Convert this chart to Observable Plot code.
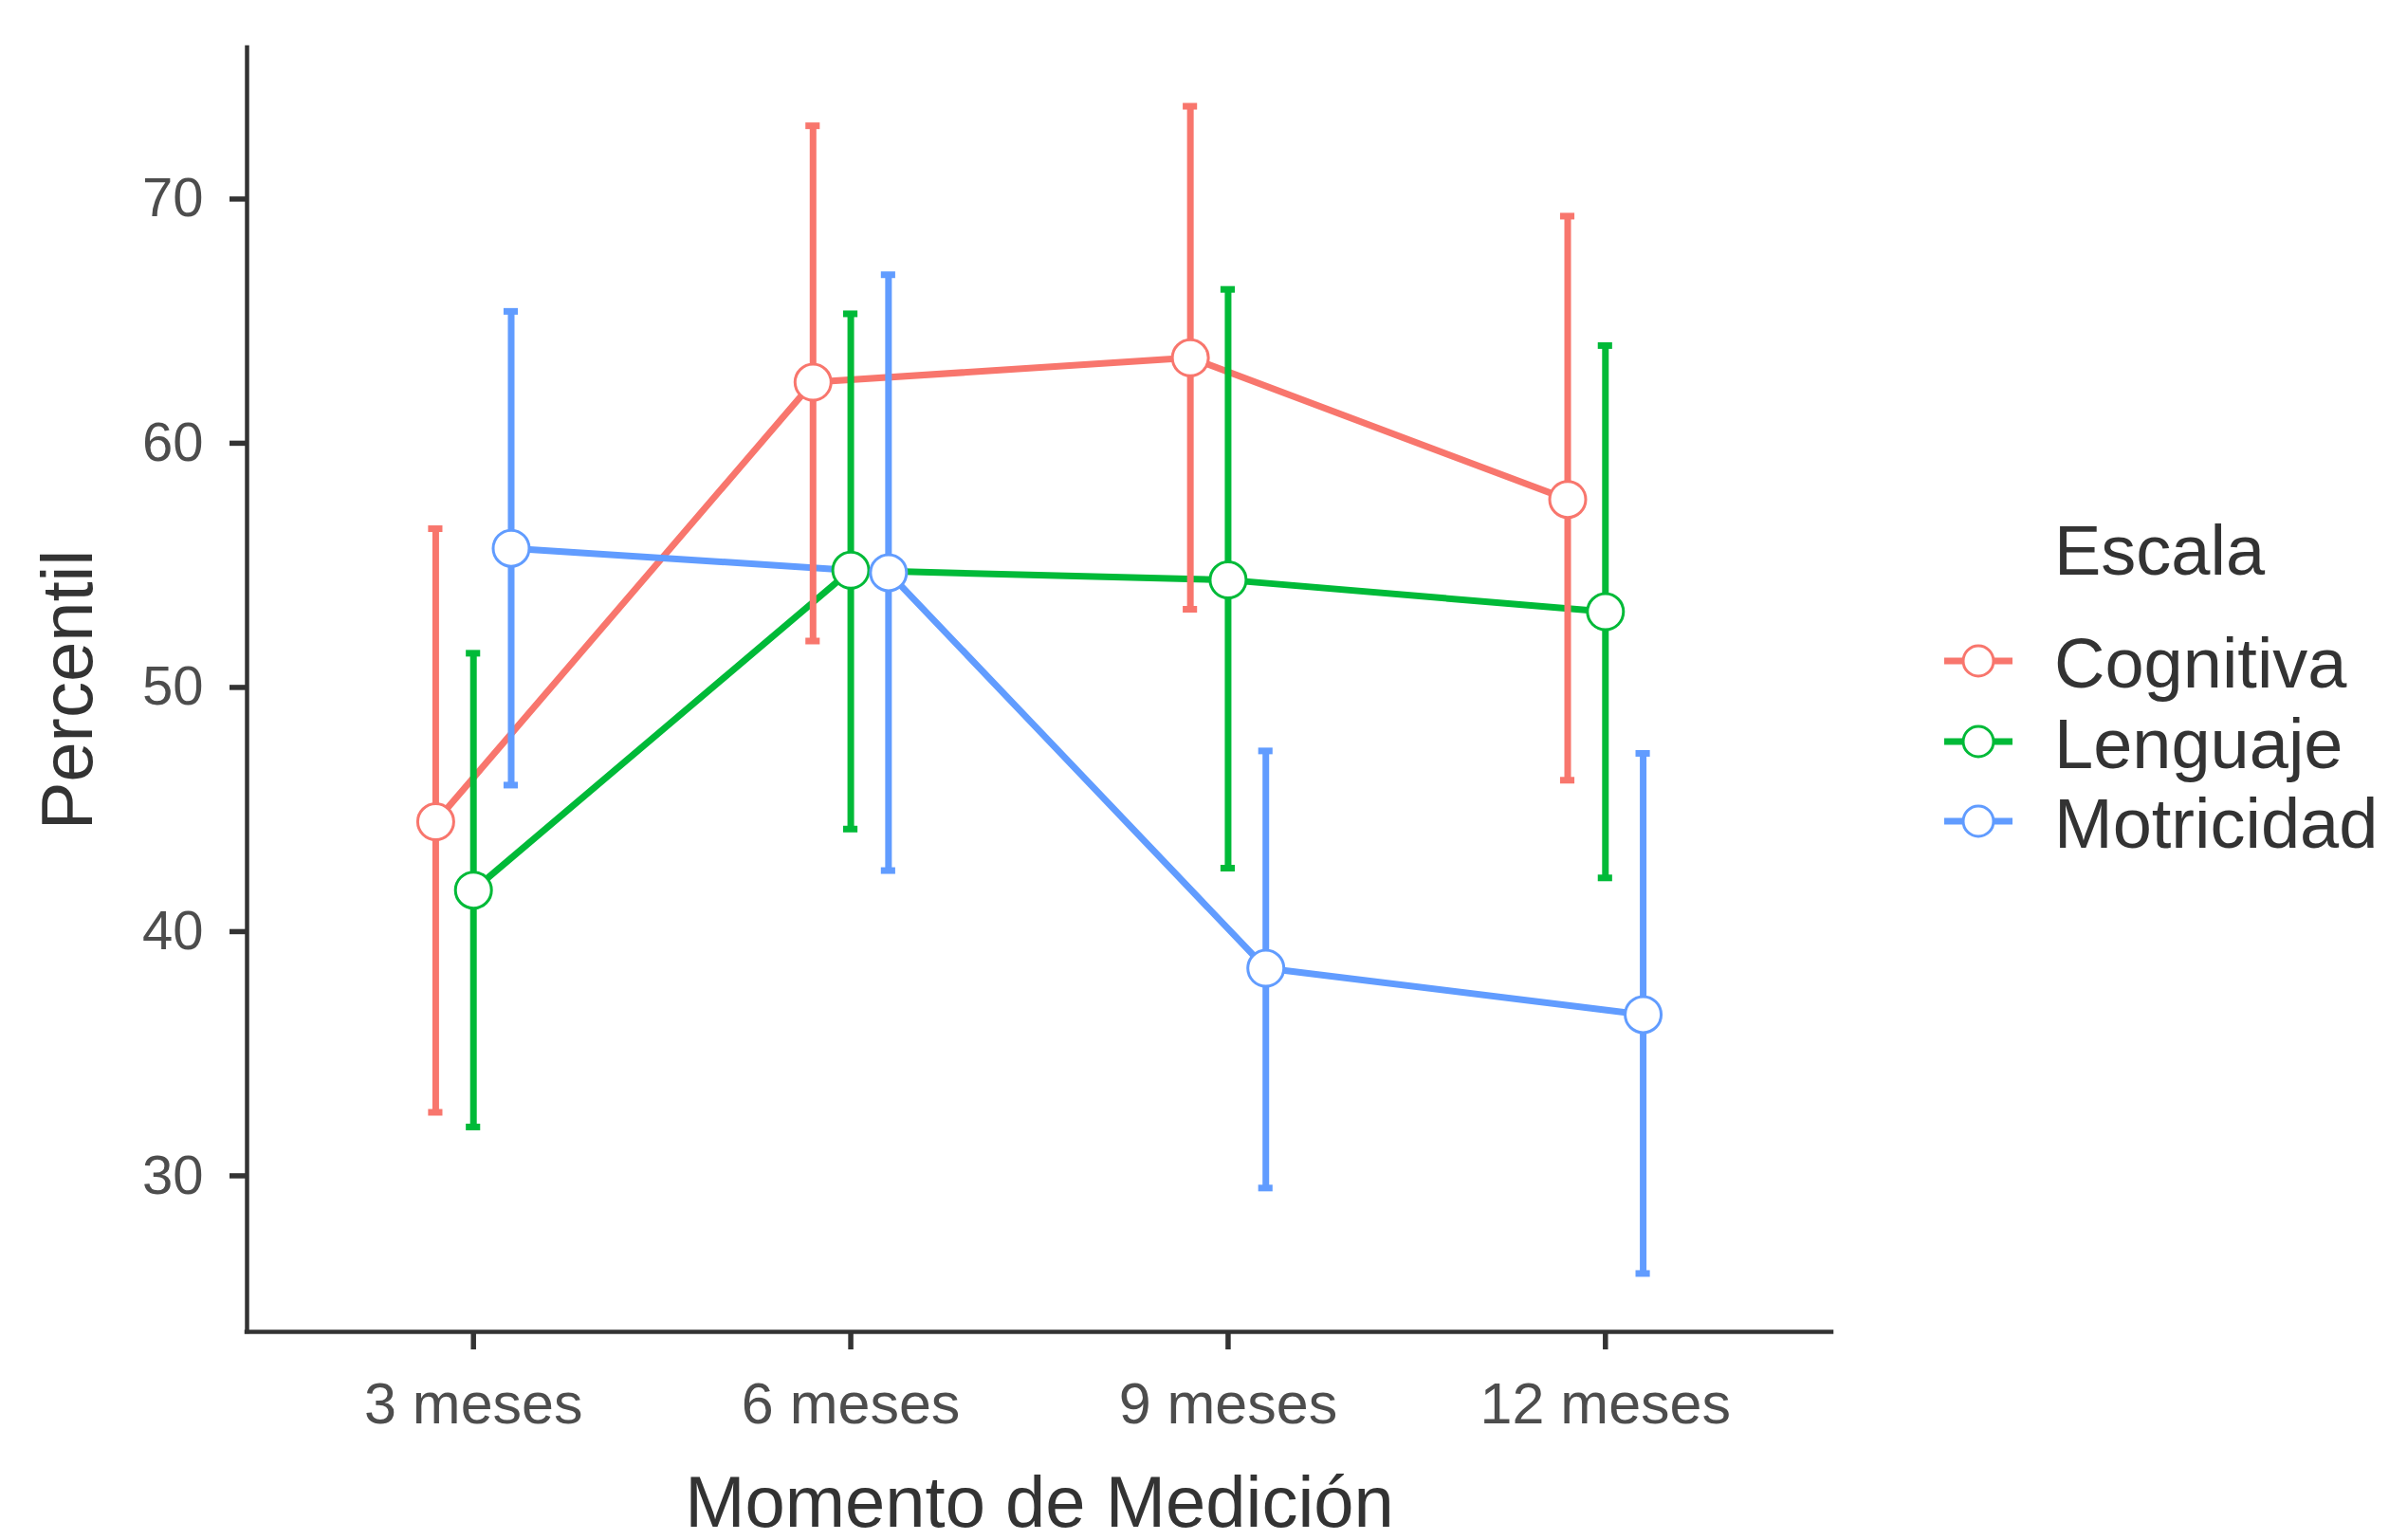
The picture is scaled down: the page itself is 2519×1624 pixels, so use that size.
<!DOCTYPE html>
<html>
<head>
<meta charset="utf-8">
<script src="https://cdn.jsdelivr.net/npm/d3@7"></script>
<script src="https://cdn.jsdelivr.net/npm/@observablehq/plot@0.6"></script>
<style>
  html, body { margin: 0; padding: 0; background: #ffffff; }
  #wrap { position: relative; width: 2519px; height: 1624px; font-family: "Liberation Sans", Arial, sans-serif; }
  #plot { position: absolute; left: 0; top: 0; }
  #legend { position: absolute; left: 2050px; top: 539px; color: #333333; font-size: 74px; }
  #legend .title { height: 84.5px; line-height: 84.5px; margin-left: 116px; margin-bottom: 34.5px; white-space: nowrap; }
  #legend .item { display: flex; align-items: center; height: 84.5px; line-height: 84.5px; white-space: nowrap; }
  #legend .item svg { display: block; margin-top: -6px; }
  #legend .item span { margin-left: 44px; }
</style>
</head>
<body>
<div id="wrap">
  <div id="plot"></div>
  <div id="legend"></div>
</div>
<script>
// ---- data ----
const months = ["3 meses", "6 meses", "9 meses", "12 meses"];
const escalas = ["Cognitiva", "Lenguaje", "Motricidad"];
const colors = ["#F8766D", "#00BA38", "#619CFF"];

const cognitivaMean  = [44.5, 62.5, 63.5, 57.7];
const cognitivaLower = [32.6, 51.9, 53.2, 46.2];
const cognitivaUpper = [56.5, 73.0, 73.8, 69.3];

const lenguajeMean  = [41.7, 54.8, 54.4, 53.1];
const lenguajeLower = [32.0, 44.2, 42.6, 42.2];
const lenguajeUpper = [51.4, 65.3, 66.3, 64.0];

const motricidadMean  = [55.7, 54.7, 38.5, 36.6];
const motricidadLower = [46.0, 42.5, 29.5, 26.0];
const motricidadUpper = [65.4, 66.9, 47.4, 47.3];

const yTicks = [30, 40, 50, 60, 70];
const xTitle = "Momento de Medición";
const yTitle = "Percentil";
const legendTitle = "Escala";

// ---- table built from the arrays ----
const means = [cognitivaMean, lenguajeMean, motricidadMean];
const lowers = [cognitivaLower, lenguajeLower, motricidadLower];
const uppers = [cognitivaUpper, lenguajeUpper, motricidadUpper];
const dodgeWidth = 0.3;
const n = escalas.length;
const offsets = escalas.map((_, i) => -dodgeWidth / 2 + dodgeWidth / (2 * n) + i * dodgeWidth / n);
const capHalf = 0.019;

const rows = escalas.flatMap((e, si) => months.map((m, mi) => ({
  escala: e,
  month: m,
  xp: mi + offsets[si],
  mean: means[si][mi],
  lower: lowers[si][mi],
  upper: uppers[si][mi]
})));

const lo = d3.min(rows, d => d.lower);
const hi = d3.max(rows, d => d.upper);
const yDomain = [lo - 0.05 * (hi - lo), hi + 0.05 * (hi - lo)];
const xDomain = [-0.6, months.length - 1 + 0.6];

const axisColor = "#333333";
const tickTextColor = "#4D4D4D";

const chart = Plot.plot({
  width: 1960,
  height: 1624,
  marginLeft: 260,
  marginRight: 29,
  marginTop: 50,
  marginBottom: 220,
  style: { fontFamily: "Liberation Sans, Arial, sans-serif", background: "#ffffff" },
  x: { type: "linear", domain: xDomain, axis: null },
  y: { domain: yDomain, axis: null },
  color: { domain: escalas, range: colors },
  marks: [
    // axis lines (theme_classic)
    Plot.ruleY([yDomain[0]], { stroke: axisColor, strokeWidth: 4.5, strokeLinecap: "square" }),
    Plot.ruleX([xDomain[0]], { stroke: axisColor, strokeWidth: 4.5, strokeLinecap: "square" }),
    Plot.axisY({
      ticks: yTicks, tickSize: 18, tickPadding: 28, fontSize: 58,
      stroke: axisColor, strokeWidth: 5.5, fill: tickTextColor, color: tickTextColor, label: null
    }),
    Plot.axisX({
      ticks: months.map((_, i) => i), tickFormat: i => months[i], tickSize: 19, tickPadding: 34, fontSize: 61,
      stroke: axisColor, strokeWidth: 5.5, fill: tickTextColor, color: tickTextColor, label: null
    }),
    // lines
    Plot.line(rows, { x: "xp", y: "mean", z: "escala", stroke: "escala", strokeWidth: 7 }),
    // error bars
    Plot.ruleX(rows, { x: "xp", y1: "lower", y2: "upper", stroke: "escala", strokeWidth: 7 }),
    Plot.ruleY(rows, { y: "lower", x1: d => d.xp - capHalf, x2: d => d.xp + capHalf, stroke: "escala", strokeWidth: 7 }),
    Plot.ruleY(rows, { y: "upper", x1: d => d.xp - capHalf, x2: d => d.xp + capHalf, stroke: "escala", strokeWidth: 7 }),
    // points
    Plot.dot(rows, { x: "xp", y: "mean", r: 19, fill: "#ffffff", stroke: "escala", strokeWidth: 3 }),
    // axis titles
    Plot.text([xTitle], { text: d => d, frameAnchor: "bottom", lineAnchor: "bottom", textAnchor: "middle", dy: 205, fontSize: 76, fill: axisColor }),
    Plot.text([yTitle], { text: d => d, frameAnchor: "left", rotate: -90, lineAnchor: "bottom", textAnchor: "middle", dx: -164, fontSize: 76, fill: axisColor })
  ]
});
document.getElementById("plot").appendChild(chart);

// ---- legend (right side, outside the SVG) ----
const legend = document.getElementById("legend");
const t = document.createElement("div");
t.className = "title";
t.textContent = legendTitle;
legend.appendChild(t);
escalas.forEach((e, i) => {
  const item = document.createElement("div");
  item.className = "item";
  const ns = "http://www.w3.org/2000/svg";
  const svg = document.createElementNS(ns, "svg");
  svg.setAttribute("width", 72);
  svg.setAttribute("height", 40);
  const line = document.createElementNS(ns, "line");
  line.setAttribute("x1", 0); line.setAttribute("x2", 72);
  line.setAttribute("y1", 20); line.setAttribute("y2", 20);
  line.setAttribute("stroke", colors[i]); line.setAttribute("stroke-width", 7);
  const c = document.createElementNS(ns, "circle");
  c.setAttribute("cx", 36); c.setAttribute("cy", 20); c.setAttribute("r", 16);
  c.setAttribute("fill", "#ffffff"); c.setAttribute("stroke", colors[i]); c.setAttribute("stroke-width", 3);
  svg.appendChild(line); svg.appendChild(c);
  const s = document.createElement("span");
  s.textContent = e;
  item.appendChild(svg); item.appendChild(s);
  legend.appendChild(item);
});
</script>
</body>
</html>
